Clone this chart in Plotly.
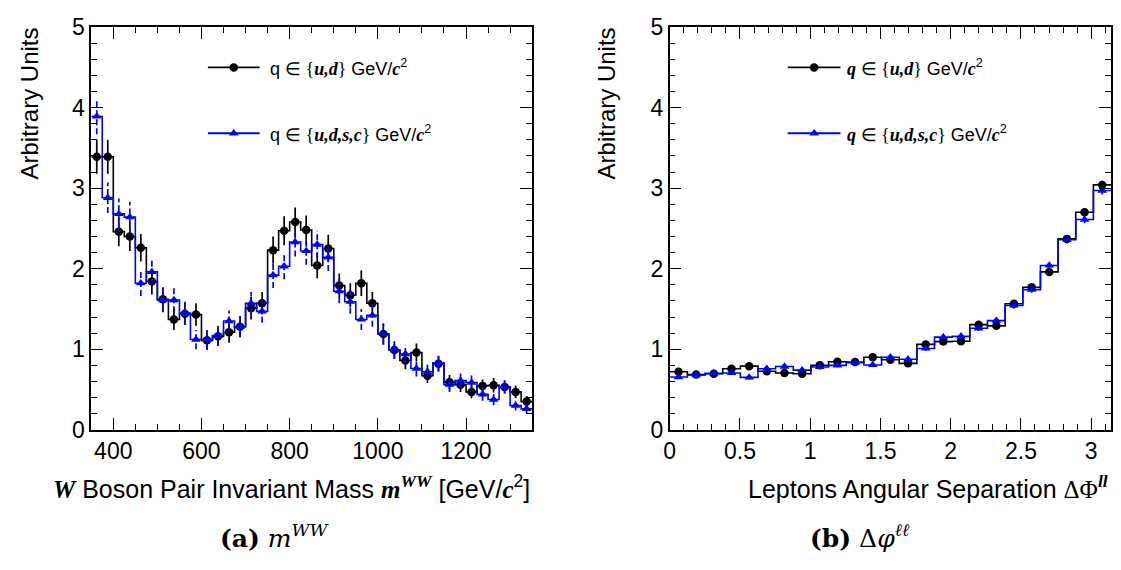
import numpy as np
import plotly.graph_objects as go

W, H = 1121, 570

# ---------------- data ----------------
# (a) m_WW : 40 bins of 25 GeV from 350 to 1350
mww_range = [350, 1350]
mww_nbins = 40
mww_ud = [3.39, 3.39, 2.46, 2.40, 2.26, 1.84, 1.62, 1.37, 1.44, 1.43,
          1.11, 1.16, 1.21, 1.28, 1.51, 1.57, 2.23, 2.47, 2.58, 2.48,
          2.04, 2.25, 1.79, 1.67, 1.82, 1.57, 1.19, 0.99, 0.86, 0.96,
          0.67, 0.82, 0.59, 0.56, 0.47, 0.545, 0.553, 0.53, 0.47, 0.35]
mww_ud_err = [0.21, 0.21, 0.18, 0.18, 0.17, 0.16, 0.15, 0.13, 0.14, 0.14,
              0.12, 0.12, 0.13, 0.13, 0.14, 0.14, 0.17, 0.18, 0.18, 0.18,
              0.16, 0.17, 0.15, 0.15, 0.16, 0.14, 0.13, 0.11, 0.11, 0.11,
              0.09, 0.10, 0.09, 0.09, 0.08, 0.08, 0.09, 0.08, 0.08, 0.07]
mww_udsc = [3.89, 2.88, 2.68, 2.64, 1.82, 1.96, 1.61, 1.61, 1.45, 1.12,
            1.12, 1.17, 1.35, 1.28, 1.57, 1.47, 1.92, 2.03, 2.33, 2.22,
            2.30, 2.14, 1.72, 1.59, 1.37, 1.42, 1.19, 0.99, 0.94, 0.76,
            0.72, 0.83, 0.56, 0.61, 0.585, 0.44, 0.375, 0.535, 0.30, 0.26]
mww_udsc_err = [0.22, 0.19, 0.19, 0.19, 0.16, 0.16, 0.15, 0.15, 0.14, 0.12,
                0.12, 0.12, 0.13, 0.13, 0.14, 0.14, 0.16, 0.16, 0.18, 0.17,
                0.17, 0.17, 0.15, 0.15, 0.13, 0.14, 0.13, 0.11, 0.11, 0.10,
                0.10, 0.10, 0.09, 0.09, 0.09, 0.08, 0.07, 0.08, 0.06, 0.06]

# (b) delta phi_ll : 25 bins from 0 to pi
dphi_range = [0.0, np.pi]
dphi_nbins = 25
dphi_ud = [0.72, 0.685, 0.695, 0.757, 0.79, 0.727, 0.705, 0.695, 0.80, 0.845,
           0.84, 0.90, 0.87, 0.825, 1.06, 1.095, 1.10, 1.305, 1.29, 1.565,
           1.77, 1.96, 2.37, 2.70, 3.04]
dphi_ud_err = [0.025, 0.025, 0.025, 0.025, 0.025, 0.025, 0.025, 0.025, 0.025, 0.025,
               0.025, 0.028, 0.028, 0.028, 0.03, 0.03, 0.03, 0.032, 0.032, 0.036,
               0.038, 0.04, 0.045, 0.048, 0.052]
dphi_udsc = [0.655, 0.68, 0.70, 0.705, 0.65, 0.757, 0.785, 0.74, 0.78, 0.80,
             0.833, 0.805, 0.90, 0.875, 1.01, 1.15, 1.16, 1.26, 1.355, 1.543,
             1.74, 2.04, 2.36, 2.61, 2.97]
dphi_udsc_err = [0.025, 0.025, 0.025, 0.025, 0.025, 0.025, 0.025, 0.025, 0.025, 0.025,
                 0.025, 0.025, 0.028, 0.028, 0.03, 0.032, 0.032, 0.032, 0.034, 0.036,
                 0.038, 0.04, 0.045, 0.047, 0.05]

y_range = [0, 5]

# ---------------- helpers ----------------
SANS = "Liberation Sans, Arial, Helvetica, sans-serif"
SERIF = "Liberation Serif, Times New Roman, serif"
CAPSERIF = "DejaVu Serif, serif"
BLACK = "#000000"
BLUE = "#0000ff"


def px(x):
    return x / W


def py(y):
    return 1 - y / H


def serif_bi(t):
    return f"<span style='font-family:{SERIF}'><b><i>{t}</i></b></span>"


def serif(t):
    return f"<span style='font-family:{SERIF}'>{t}</span>"


fig = go.Figure()


def add_series(edges, vals, errs, color, symbol, dash, xa, ya):
    edges = np.asarray(edges)
    centers = 0.5 * (edges[:-1] + edges[1:])
    vals = list(vals)
    fig.add_trace(go.Scatter(x=edges, y=vals + [vals[-1]], mode="lines",
                             line=dict(color=color, width=1.6, shape="hv"),
                             xaxis=xa, yaxis=ya, showlegend=False, hoverinfo="skip"))
    ex, ey = [], []
    for c, v, e in zip(centers, vals, errs):
        ex += [c, c, None]
        ey += [v - e, v + e, None]
    fig.add_trace(go.Scatter(x=ex, y=ey, mode="lines",
                             line=dict(color=color, width=1.7, dash=dash),
                             xaxis=xa, yaxis=ya, showlegend=False, hoverinfo="skip"))
    fig.add_trace(go.Scatter(x=centers, y=vals, mode="markers",
                             marker=dict(color=color, symbol=symbol, size=8.5,
                                         line=dict(width=0)),
                             xaxis=xa, yaxis=ya, showlegend=False))


mww_edges = np.linspace(mww_range[0], mww_range[1], mww_nbins + 1)
dphi_edges = np.linspace(dphi_range[0], dphi_range[1], dphi_nbins + 1)

add_series(mww_edges, mww_ud, mww_ud_err, BLACK, "circle", "solid", "x", "y")
add_series(mww_edges, mww_udsc, mww_udsc_err, BLUE, "triangle-up", "6px,3px", "x", "y")
add_series(dphi_edges, dphi_ud, dphi_ud_err, BLACK, "circle", "solid", "x2", "y2")
add_series(dphi_edges, dphi_udsc, dphi_udsc_err, BLUE, "triangle-up", "6px,3px", "x2", "y2")

# ---------------- legends (drawn by hand in pixel space) ----------------
legend_rows = [
    (203, 255, 57, BLACK, "circle", 263,
     "q " + serif("∈ {") + serif_bi("u,d") + serif("}") + " GeV/" + serif_bi("c") + "<sup>2</sup>"),
    (203, 255, 126, BLUE, "triangle-up", 263,
     "q " + serif("∈ {") + serif_bi("u,d,s,c") + serif("}") + " GeV/" + serif_bi("c") + "<sup>2</sup>"),
    (786, 839, 57, BLACK, "circle", 844,
     serif_bi("q") + serif(" ∈ {") + serif_bi("u,d") + serif("}") + " GeV/" + serif_bi("c") + "<sup>2</sup>"),
    (786, 839, 126, BLUE, "triangle-up", 844,
     serif_bi("q") + serif(" ∈ {") + serif_bi("u,d,s,c") + serif("}") + " GeV/" + serif_bi("c") + "<sup>2</sup>"),
]
for x0, x1, yy, col, sym, tx, txt in legend_rows:
    fig.add_trace(go.Scatter(x=[x0, x1], y=[yy, yy], mode="lines",
                             line=dict(color=col, width=1.8),
                             xaxis="x3", yaxis="y3", showlegend=False, hoverinfo="skip"))
    fig.add_trace(go.Scatter(x=[(x0 + x1) / 2], y=[yy], mode="markers",
                             marker=dict(color=col, symbol=sym, size=8.5),
                             xaxis="x3", yaxis="y3", showlegend=False, hoverinfo="skip"))
    fig.add_annotation(x=px(tx), y=py(yy), xref="paper", yref="paper",
                       xanchor="left", yanchor="middle", showarrow=False,
                       text=txt, font=dict(family=SANS, size=18, color=BLACK))

# ---------------- axes ----------------
ydom = [py(436.7), py(14.7)]
common = dict(showline=True, linecolor=BLACK, linewidth=1.5, mirror="ticks",
              ticks="inside", ticklen=12, tickwidth=1.2, tickcolor=BLACK,
              showgrid=False, zeroline=False,
              tickfont=dict(family=SANS, size=23, color=BLACK))

fig.update_layout(
    width=W, height=H,
    margin=dict(l=0, r=0, t=0, b=0),
    paper_bgcolor="white", plot_bgcolor="rgba(0,0,0,0)",
    showlegend=False,
    xaxis=dict(domain=[px(85.7), px(529)], range=mww_range, tick0=0, dtick=200,
               minor=dict(ticks="inside", ticklen=6, dtick=50, tickcolor=BLACK, tickwidth=1.1),
               anchor="y", **common),
    yaxis=dict(domain=ydom, range=y_range, tick0=0, dtick=1,
               minor=dict(ticks="inside", ticklen=6, dtick=0.2, tickcolor=BLACK, tickwidth=1.1),
               anchor="x", **common),
    xaxis2=dict(domain=[px(667.3), px(1111)], range=dphi_range, tick0=0, dtick=0.5,
                minor=dict(ticks="inside", ticklen=6, dtick=0.1, tickcolor=BLACK, tickwidth=1.1),
                anchor="y2", **common),
    yaxis2=dict(domain=ydom, range=y_range, tick0=0, dtick=1,
                minor=dict(ticks="inside", ticklen=6, dtick=0.2, tickcolor=BLACK, tickwidth=1.1),
                anchor="x2", **common),
    xaxis3=dict(domain=[0, 1], range=[0, W], visible=False, anchor="y3", fixedrange=True),
    yaxis3=dict(domain=[0, 1], range=[H, 0], visible=False, anchor="x3", fixedrange=True),
)

# ---------------- titles and captions ----------------
title_font = dict(family=SANS, size=25, color=BLACK)
for xc in (24, 604):
    fig.add_annotation(x=px(xc), y=py(95), xref="paper", yref="paper",
                       xanchor="center", yanchor="middle", textangle=-90, showarrow=False,
                       text="Arbitrary Units", font=dict(family=SANS, size=24, color=BLACK))

fig.add_annotation(x=px(529), y=py(497), xref="paper", yref="paper",
                   xanchor="right", yanchor="middle", showarrow=False,
                   text=serif_bi("W") + " Boson Pair Invariant Mass " + serif_bi("m")
                   + "<sup>" + serif_bi("WW") + "</sup> [GeV/" + serif_bi("c") + "<sup>2</sup>]",
                   font=title_font)
fig.add_annotation(x=px(1110), y=py(497), xref="paper", yref="paper",
                   xanchor="right", yanchor="middle", showarrow=False,
                   text="Leptons Angular Separation " + serif("ΔΦ")
                   + "<sup>" + serif_bi("ll") + "</sup>",
                   font=title_font)

cap_font = dict(family=CAPSERIF, size=25, color=BLACK)
fig.add_annotation(x=px(270), y=py(549), xref="paper", yref="paper",
                   xanchor="center", yanchor="middle", showarrow=False,
                   text="<b>(a)</b> <i>m</i><sup><i>WW</i></sup>", font=cap_font)
fig.add_annotation(x=px(859), y=py(549), xref="paper", yref="paper",
                   xanchor="center", yanchor="middle", showarrow=False,
                   text="<b>(b)</b> Δ<i>φ</i><sup><i>ℓℓ</i></sup>", font=cap_font)

# pin the figure to the top-left corner of the page
pin = ("var gd=document.getElementById('{plot_id}');"
       "document.documentElement.style.margin='0';"
       "document.documentElement.style.padding='0';"
       "document.documentElement.style.overflow='hidden';"
       "document.body.style.margin='0';document.body.style.padding='0';"
       "document.body.style.overflow='hidden';"
       "gd.style.position='fixed';gd.style.left='0px';gd.style.top='0px';")

fig.write_html("out.html", config={"displayModeBar": False}, post_script=pin)
